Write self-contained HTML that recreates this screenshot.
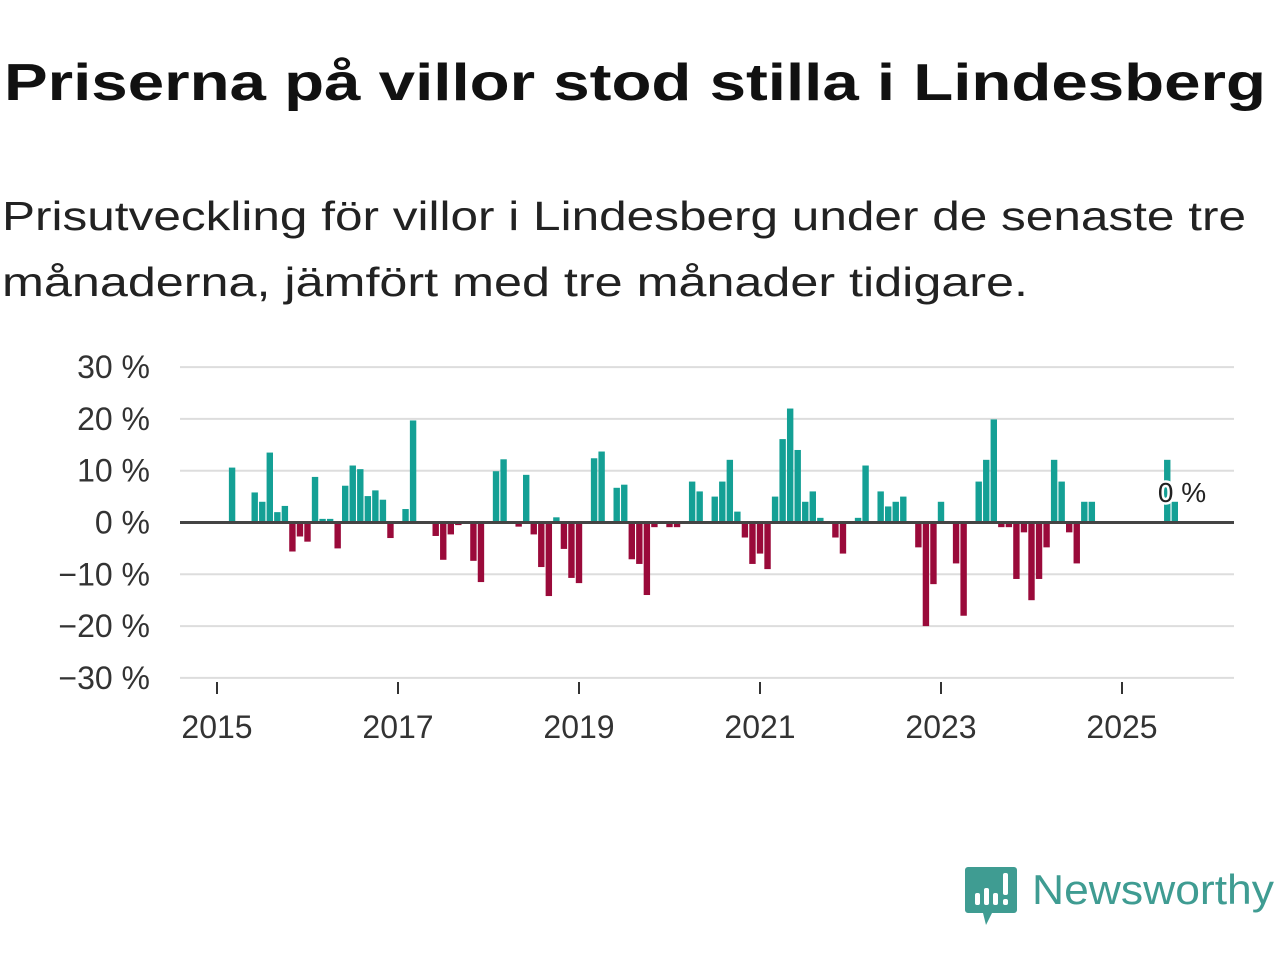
<!DOCTYPE html>
<html><head><meta charset="utf-8"><style>
body{margin:0;background:#fff;width:1280px;height:960px;overflow:hidden;font-family:"Liberation Sans",sans-serif}
</style></head><body>
<svg width="1280" height="960" font-family="'Liberation Sans','DejaVu Sans',sans-serif">
<text x="4" y="100" font-size="52" font-weight="bold" fill="#111" textLength="1262" lengthAdjust="spacingAndGlyphs">Priserna på villor stod stilla i Lindesberg</text>
<text x="2" y="230" font-size="41" fill="#222" textLength="1244" lengthAdjust="spacingAndGlyphs">Prisutveckling för villor i Lindesberg under de senaste tre</text>
<text x="2" y="296" font-size="41" fill="#222" textLength="1026" lengthAdjust="spacingAndGlyphs">månaderna, jämfört med tre månader tidigare.</text>
<g id="grid"></g><g id="bars"></g><g id="axes"></g>
<g>
<path d="M968 867 h46 a3 3 0 0 1 3 3 v40 a3 3 0 0 1 -3 3 h-22 l-6 12 l-3 -12 h-15 a3 3 0 0 1 -3 -3 v-40 a3 3 0 0 1 3 -3z" fill="#3f9c92"/>
<rect x="975" y="893" width="5" height="12" rx="2" fill="#fff"/><rect x="984" y="888" width="5" height="17" rx="2" fill="#fff"/><rect x="993" y="893" width="5" height="12" rx="2" fill="#fff"/><rect x="1003" y="873" width="5" height="22" rx="2" fill="#fff"/><rect x="1003" y="899" width="5" height="6" rx="2" fill="#fff"/>
<text x="1032" y="904" font-size="42" fill="#3f9c92" textLength="242" lengthAdjust="spacingAndGlyphs">Newsworthy</text>
</g>
</svg>
<script>
const startYear = 2015;
const values = [null,null,10.6,null,null,5.8,4,13.5,2,3.2,-5.6,-2.7,-3.7,8.8,0.7,0.7,-5,7.1,11,10.3,5.1,6.2,4.4,-3,null,2.6,19.7,null,null,-2.6,-7.2,-2.3,-0.5,null,-7.4,-11.5,null,9.9,12.2,null,-0.8,9.2,-2.3,-8.6,-14.2,1,-5.1,-10.7,-11.7,null,12.4,13.7,null,6.7,7.3,-7.1,-8,-14,-0.9,null,-0.9,-0.9,null,7.9,6,null,5,7.9,12.1,2.1,-2.9,-8,-6,-9,5,16.1,22,14,4,6,0.9,null,-2.9,-6,null,0.9,11,null,6,3.1,4,5,null,-4.8,-20,-11.9,4,null,-7.9,-18,null,7.9,12.1,19.9,-0.9,-0.9,-10.9,-1.9,-15,-10.9,-4.8,12.1,7.9,-1.9,-7.9,4,4,null,null,null,null,null,null,null,null,null,12.1,4];
const yTicks = [30,20,10,0,-10,-20,-30];
const xTicks = [2015,2017,2019,2021,2023,2025];
const lastLabel = "0 %";
const NS='http://www.w3.org/2000/svg';
const L=180,R=1234,Y0=522.5,PX=5.18;
const y=v=>Y0-v*PX;
const x=i=>217+i*90.5/12;
function mk(t,a,p){const e=document.createElementNS(NS,t);for(const k in a)e.setAttribute(k,a[k]);p.appendChild(e);return e;}
const grid=document.getElementById('grid'),bars=document.getElementById('bars'),axes=document.getElementById('axes');
yTicks.forEach(t=>{
 const g=mk('line',{x1:L,x2:R,y1:y(t),y2:y(t),stroke:'#ddd','stroke-width':2},grid);
 
 
 const tx=mk('text',{x:150,y:y(t)+11,'font-size':32,'text-anchor':'end',fill:'#333'},grid);
 tx.textContent=(t<0?'\u2212'+(-t):t)+' %';
 
 
});
values.forEach((v,i)=>{
 if(v===null)return;
 const b=mk('rect',{x:x(i)-3.2,width:6.4,y:Math.min(y(v),Y0),height:Math.abs(y(v)-Y0),fill:v>=0?'#14a095':'#9a0a3a'},bars);
 
 
});
const z=mk('line',{x1:L,x2:R,y1:Y0,y2:Y0,stroke:'#444','stroke-width':3},axes);


xTicks.forEach(t=>{
 const xi=x((t-startYear)*12);
 const tk=mk('line',{x1:xi,x2:xi,y1:682,y2:694,stroke:'#333','stroke-width':2},axes);
 
 
 const tx=mk('text',{x:xi,y:738,'font-size':32,'text-anchor':'middle',fill:'#333'},axes);
 tx.textContent=t;
 
 
});
const lbl=mk('text',{x:1182,y:502,'font-size':28,'text-anchor':'middle',fill:'#222',stroke:'#fff','stroke-width':5,'paint-order':'stroke'},axes);
lbl.textContent=lastLabel;


</script>
</body></html>
